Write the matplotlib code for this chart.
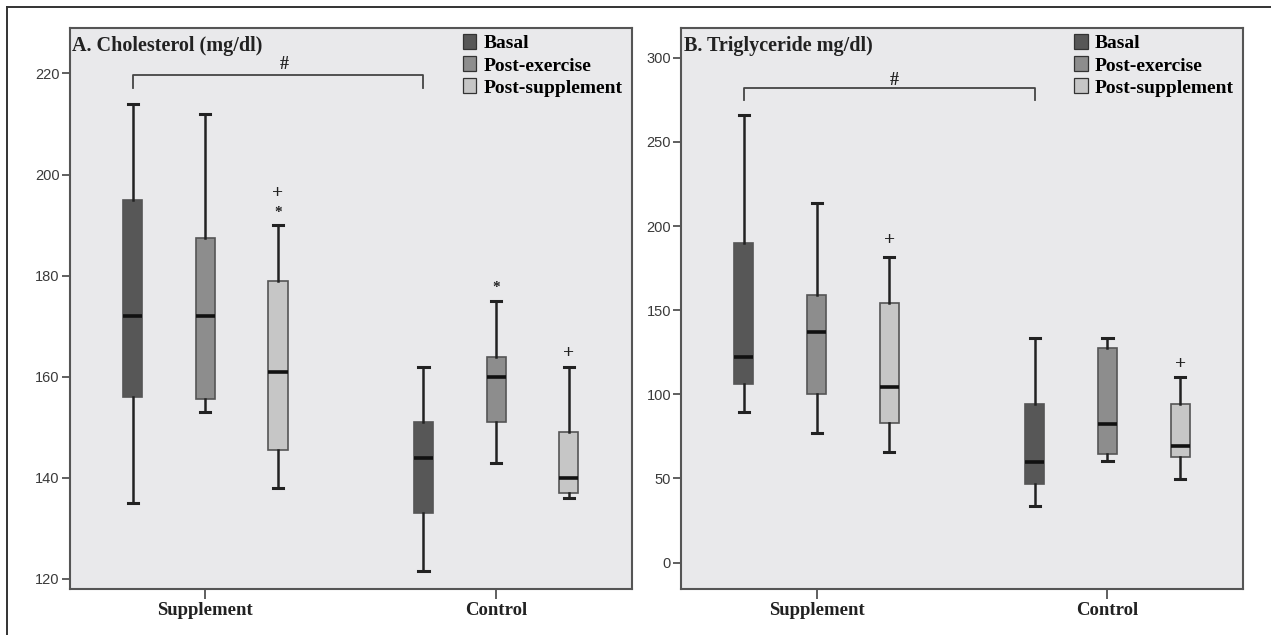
import matplotlib
matplotlib.use("Agg")
import matplotlib.pyplot as plt
from matplotlib.lines import Line2D
from matplotlib.patches import Patch

SERIF = ["Liberation Serif", "DejaVu Serif"]
NARROW = ["Liberation Sans Narrow", "Liberation Sans", "DejaVu Sans"]

COLORS = ["#575757", "#8d8d8d", "#c6c6c6"]
SERIES = ["Basal", "Post-exercise", "Post-supplement"]
GROUPS = ["Supplement", "Control"]
BG = "#e9e9eb"
EDGE = "#555555"

# order: supplement basal, post-ex, post-supp, control basal, post-ex, post-supp
chol_whislo = [135, 153, 138, 121.5, 143, 136]
chol_q1 = [156, 155.5, 145.5, 133, 151, 137]
chol_med = [172, 172, 161, 144, 160, 140]
chol_q3 = [195, 187.5, 179, 151, 164, 149]
chol_whishi = [214, 212, 190, 162, 175, 162]
chol_marks = [(2, 196.2, "+"), (2, 192.4, "*"), (4, 177.6, "*"), (5, 164.6, "+")]
chol_ticks = [120, 140, 160, 180, 200, 220]

trig_whislo = [89.5, 77, 65.5, 33.5, 60.5, 49.5]
trig_q1 = [106, 100, 83, 47, 64.5, 62.5]
trig_med = [122, 137, 104.5, 59.5, 82.5, 69.5]
trig_q3 = [190, 159, 154, 94.5, 127.5, 94.5]
trig_whishi = [266, 214, 181.5, 133.5, 133.5, 110.5]
trig_marks = [(2, 191.5, "+"), (5, 117.5, "+")]
trig_ticks = [0, 50, 100, 150, 200, 250, 300]

POS = [-0.25, 0.0, 0.25, 0.75, 1.0, 1.25]


def panel(ax, lo, q1, med, q3, hi, marks, ticks, ylim, title, bracket):
    stats = [dict(whislo=a, q1=b, med=c, q3=d, whishi=e, fliers=[])
             for a, b, c, d, e in zip(lo, q1, med, q3, hi)]
    bp = ax.bxp(stats, positions=POS, widths=0.066, patch_artist=True,
                capwidths=0.035, manage_ticks=False,
                boxprops=dict(edgecolor=EDGE, linewidth=1.2),
                medianprops=dict(color="#111111", linewidth=2.6),
                whiskerprops=dict(color="#222222", linewidth=1.8),
                capprops=dict(color="#222222", linewidth=2.2))
    for i, box in enumerate(bp["boxes"]):
        box.set_facecolor(COLORS[i % 3])
    for i, y, sym in marks:
        ax.text(POS[i], y, sym, ha="center", va="center",
                fontsize=14 if sym == "+" else 11, color="#222222",
                family=SERIF, fontweight="bold")

    ax.set_facecolor(BG)
    ax.set_xlim(-0.467, 1.466)
    ax.set_ylim(*ylim)
    ax.set_yticks(ticks)
    ax.set_yticklabels([str(t) for t in ticks], family=NARROW, fontsize=10.5,
                       color="#3a3a3a")
    ax.set_xticks([0, 1])
    ax.set_xticklabels(GROUPS, family=SERIF, fontweight="bold", fontsize=13.5,
                       color="#222222")
    ax.tick_params(axis="y", direction="out", length=6, width=1.2,
                   color="#444444", pad=1)
    ax.tick_params(axis="x", direction="out", length=7, width=1.2,
                   color="#444444", pad=2)
    for s in ax.spines.values():
        s.set_color(EDGE)
        s.set_linewidth(1.5)

    ax.text(0.005, 0.968, title, transform=ax.transAxes, ha="left",
            va="center", family=SERIF, fontweight="bold", fontsize=14.5,
            color="#222222")

    # significance bracket between supplement and control basal
    ytop, ybot, xhash, yhash = bracket
    ax.plot([POS[0], POS[0], POS[3], POS[3]], [ybot, ytop, ytop, ybot],
            color="#444444", lw=1.3)
    ax.text(xhash, yhash, "#", ha="center", va="center", family=SERIF,
            fontweight="bold", fontsize=13, color="#222222")

    handles = [Patch(facecolor=c, edgecolor="#333333", linewidth=0.9)
               for c in COLORS]
    ax.legend(handles, SERIES, loc="upper left", bbox_to_anchor=(0.695, 0.994),
              frameon=False, borderpad=0.1, handlelength=0.68,
              handleheight=0.8, handletextpad=0.35, labelspacing=0.2,
              borderaxespad=0.05,
              prop=dict(family=SERIF, weight="bold", size=14))


fig = plt.figure(figsize=(12.71, 6.35), dpi=100)
fig.patch.set_facecolor("white")
ax1 = fig.add_axes([0.0547, 0.0724, 0.4423, 0.8835])
ax2 = fig.add_axes([0.5356, 0.0724, 0.4424, 0.8835])

panel(ax1, chol_whislo, chol_q1, chol_med, chol_q3, chol_whishi, chol_marks,
      chol_ticks, (118, 229), "A. Cholesterol (mg/dl)",
      (219.8, 217.2, 0.272, 221.8))
panel(ax2, trig_whislo, trig_q1, trig_med, trig_q3, trig_whishi, trig_marks,
      trig_ticks, (-15.7, 317.7), "B. Triglyceride mg/dl)",
      (281.8, 275.2, 0.268, 286.5))

# outer frame edges left by the crop
fig.add_artist(Line2D([7 / 1271, 1], [1 - 7 / 635, 1 - 7 / 635],
                      color="#333333", lw=1.4))
fig.add_artist(Line2D([7 / 1271, 7 / 1271], [0, 1 - 7 / 635],
                      color="#333333", lw=1.4))

fig.savefig("out.png", dpi=100)
